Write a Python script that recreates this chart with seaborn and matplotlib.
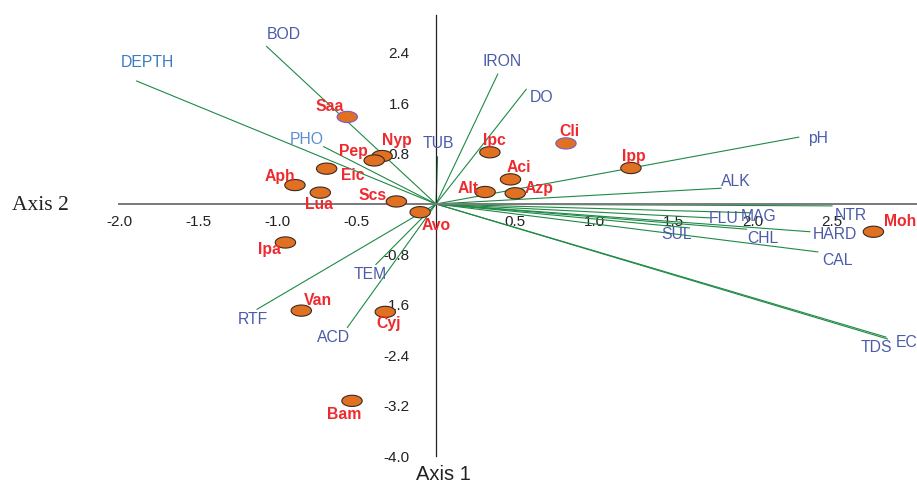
import numpy as np
import pandas as pd
import matplotlib
matplotlib.use("Agg")
import matplotlib.pyplot as plt
from matplotlib.path import Path
from matplotlib.markers import MarkerStyle
import seaborn as sns

# ---- data: site scores (Axis 1, Axis 2) ----
sites = ["Saa", "Nyp", "Pep", "Eic", "Aph", "Lua", "Scs", "Avo", "Alt", "Azp",
         "Aci", "Ipc", "Cli", "Ipp", "Moh", "Ipa", "Van", "Cyj", "Bam"]
site_ax1 = [-0.56, -0.34, -0.39, -0.69, -0.89, -0.73, -0.25, -0.10, 0.31, 0.50,
            0.47, 0.34, 0.82, 1.23, 2.76, -0.95, -0.85, -0.32, -0.53]
site_ax2 = [1.38, 0.76, 0.69, 0.56, 0.30, 0.18, 0.04, -0.13, 0.19, 0.17,
            0.39, 0.82, 0.96, 0.57, -0.44, -0.61, -1.69, -1.71, -3.12]

# ---- data: environmental variable vectors ----
variables = ["DEPTH", "BOD", "PHO", "TUB", "IRON", "DO", "pH", "ALK", "NTR", "MAG",
             "FLU", "HARD", "CHL", "SUL", "CAL", "EC", "TDS", "TEM", "RTF", "ACD"]
var_ax1 = [-1.89, -1.07, -0.71, 0.01, 0.39, 0.57, 2.29, 1.80, 2.50, 1.99,
           1.73, 2.36, 1.96, 1.60, 2.41, 2.85, 2.84, -0.38, -1.13, -0.56]
var_ax2 = [1.95, 2.50, 0.91, 0.75, 2.06, 1.82, 1.06, 0.25, -0.03, -0.14,
           -0.22, -0.44, -0.40, -0.38, -0.76, -2.14, -2.11, -0.96, -1.67, -1.96]

x_ticks = [-2.0, -1.5, -1.0, -0.5, 0.5, 1.0, 1.5, 2.0, 2.5]
y_ticks = [2.4, 1.6, 0.8, -0.8, -1.6, -2.4, -3.2, -4.0]

# ---- label placement (pixel offsets) ----
site_off = {"Saa": (-18, 10), "Nyp": (15, 16), "Pep": (-21, 9), "Eic": (26, -7),
            "Aph": (-15, 9), "Lua": (-1, -12), "Scs": (-24, 6), "Avo": (16, -13),
            "Alt": (-17, 4), "Azp": (24, 5), "Aci": (8, 12), "Ipc": (4, 12),
            "Cli": (3, 12), "Ipp": (3, 12), "Moh": (27, 10), "Ipa": (-16, -7),
            "Van": (17, 10), "Cyj": (3, -12), "Bam": (-8, -14)}
var_off = {"DEPTH": (11, 18), "BOD": (17, 12), "PHO": (-17, 7), "TUB": (1, 13),
           "IRON": (4, 13), "DO": (15, -8), "pH": (19, -1), "ALK": (15, 7),
           "NTR": (19, -10), "MAG": (7, -4), "FLU": (13, -1), "HARD": (25, -3),
           "CHL": (16, -9), "SUL": (-13, -7), "CAL": (20, -9), "EC": (19, -3),
           "TDS": (-10, -10), "TEM": (-6, -10), "RTF": (-4, -10), "ACD": (-14, -10)}

sns.set_style("white")
plt.rcParams["font.family"] = ["Liberation Sans", "DejaVu Sans"]

df_sites = pd.DataFrame({"site": sites, "ax1": site_ax1, "ax2": site_ax2})

fig = plt.figure(figsize=(9.17, 4.83), dpi=100)
ax = fig.add_axes([0, 0, 1, 1])
ax.set_facecolor("white")

green = "#1E8A45"
blue = "#4B5BAA"
for name, vx, vy in zip(variables, var_ax1, var_ax2):
    ax.plot([0, vx], [0, vy], color=green, lw=0.8, zorder=1)
    col = blue
    if name == "PHO":
        col = "#5B8ED2"
    elif name == "DEPTH":
        col = "#3A7BC2"
    dx, dy = var_off[name]
    ax.annotate(name, (vx, vy), xytext=(dx, dy), textcoords="offset pixels",
                ha="center", va="center", fontsize=11.3, color=col, zorder=5)

theta = np.linspace(0, 2 * np.pi, 60)
ell = Path(np.column_stack([np.cos(theta), 0.55 * np.sin(theta)]), closed=True)
edges = ["#7A5CC8" if s in ("Saa", "Cli") else "#3A2A1E" for s in sites]
sns.scatterplot(data=df_sites, x="ax1", y="ax2", ax=ax, marker=MarkerStyle(ell),
                s=215, color="#E07022", edgecolor=edges, linewidth=0.8,
                zorder=4, legend=False)

for name, sx, sy in zip(sites, site_ax1, site_ax2):
    dx, dy = site_off[name]
    ax.annotate(name, (sx, sy), xytext=(dx, dy), textcoords="offset pixels",
                ha="center", va="center", fontsize=11.3, fontweight="bold",
                color="#EE2A2E", zorder=6)

# axes through origin
ax.set_xlim(-2.751, 3.035)
ax.set_ylim(-4.422, 3.233)
for sp in ("top", "right"):
    ax.spines[sp].set_visible(False)
ax.spines["left"].set_position(("data", 0))
ax.spines["bottom"].set_position(("data", 0))
ax.spines["left"].set_bounds(-4.0, 3.0)
ax.spines["bottom"].set_bounds(-2.0, 3.1)
ax.spines["bottom"].set_color("#7A7A7A")
ax.spines["bottom"].set_linewidth(1.4)
ax.spines["left"].set_color("#222222")
ax.spines["left"].set_linewidth(0.9)
ax.spines["left"].set_zorder(2)
ax.spines["bottom"].set_zorder(2)

ax.set_xticks(x_ticks)
ax.set_xticklabels([f"{t:.1f}" for t in x_ticks])
ax.set_yticks(y_ticks)
ax.set_yticklabels([f"{t:.1f}" for t in y_ticks])
ax.tick_params(axis="x", direction="out", length=3.5, width=1.0, color="#555555",
               pad=4.5, labelsize=11, labelcolor="#222222")
ax.tick_params(axis="y", direction="out", length=8, width=1.0, color="#555555",
               pad=11, labelsize=11, labelcolor="#222222")
ax.set_xlabel("")
ax.set_ylabel("")

fig.text(40 / 917, 1 - 206 / 483, "Axis 2", ha="center", va="center",
         fontsize=15.5, family=["Liberation Serif", "DejaVu Serif"], color="#222222")
fig.text(443 / 917, 1 - 474 / 483, "Axis 1", ha="center", va="center",
         fontsize=14.5, color="#222222")

fig.savefig("out.png", dpi=100, facecolor="white")
